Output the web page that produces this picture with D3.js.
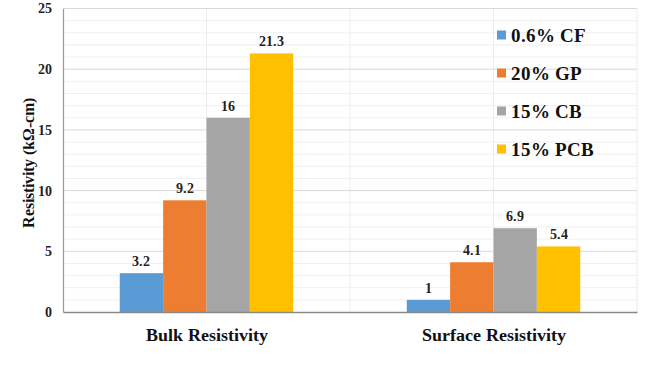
<!DOCTYPE html>
<html><head><meta charset="utf-8">
<script src="https://cdn.jsdelivr.net/npm/d3@7"></script>
<style>
@font-face{font-family:"ChartSerif";src:local("Liberation Serif Bold"),local("LiberationSerif-Bold"),local("Liberation Serif");font-weight:bold;font-display:block}
body{margin:0;background:#fff}svg{display:block}
</style>
</head><body><svg id="c" width="650" height="383"></svg>
<script>
const categories = ["Bulk Resistivity", "Surface Resistivity"];
const seriesNames = ["0.6% CF", "20% GP", "15% CB", "15% PCB"];
const cf = [3.2, 1];
const gp = [9.2, 4.1];
const cb = [16, 6.9];
const pcb = [21.3, 5.4];
const seriesValues = [cf, gp, cb, pcb];
const yTicks = [0, 5, 10, 15, 20, 25];
const colors = ["#5B9BD5", "#ED7D31", "#A5A5A5", "#FFC000"];

const svg = d3.select("#c");
const L = 63, R = 637, T = 8.5, B = 312;
const FF = '"ChartSerif", "Liberation Serif", "Times New Roman", serif';
function styleText(sel, size) {
  return sel.style("font-family", FF).style("font-weight", "bold").style("font-size", size + "px");
}

const y = d3.scaleLinear().domain([0, 25]).range([B, T]);
const x0 = d3.scaleBand().domain(categories).range([L, R]).paddingInner(0).paddingOuter(0);
const groupW = 173.5;
const x1 = d3.scaleBand().domain(seriesNames).range([0, groupW]);

// minor gridlines
svg.append("g").selectAll("line").data(d3.range(0, 26).filter(v => v % 5 !== 0)).join("line")
  .attr("x1", L).attr("x2", R).attr("y1", d => y(d)).attr("y2", d => y(d))
  .attr("stroke", "#f0f0f0").attr("stroke-width", 1);
// vertical gridlines
const vg = [];
categories.forEach(c => { vg.push(x0(c) + x0.bandwidth() / 2); vg.push(x0(c) + x0.bandwidth()); });
svg.append("g").selectAll("line").data(vg).join("line")
  .attr("x1", d => d).attr("x2", d => d).attr("y1", T).attr("y2", B)
  .attr("stroke", "#ececec").attr("stroke-width", 1);
// major gridlines
svg.append("g").selectAll("line").data(yTicks.filter(v => v > 0)).join("line")
  .attr("x1", L).attr("x2", R).attr("y1", d => y(d)).attr("y2", d => y(d))
  .attr("stroke", "#d9d9d9").attr("stroke-width", 1);

// y axis
const yAxis = d3.axisLeft(y).tickValues(yTicks).tickSize(0).tickPadding(11);
const ya = svg.append("g").attr("transform", `translate(${L},0)`).call(yAxis).attr("font-family", null);
ya.select(".domain").attr("stroke", "#9a9a9a").attr("stroke-width", 1.2);
styleText(ya.selectAll("text"), 14).attr("fill", "#222");

// bars and value labels
categories.forEach((c, ci) => {
  const gx = x0(c) + x0.bandwidth() / 2 - groupW / 2;
  seriesNames.forEach((s, si) => {
    const v = seriesValues[si][ci];
    svg.append("rect").attr("x", gx + x1(s)).attr("y", y(v))
      .attr("width", x1.bandwidth()).attr("height", B - y(v)).attr("fill", colors[si]);
    styleText(svg.append("text"), 14).attr("x", gx + x1(s) + x1.bandwidth() / 2).attr("y", y(v) - 7)
      .attr("text-anchor", "middle").attr("fill", "#222").text(v);
  });
});

// x axis
const xAxis = d3.axisBottom(x0).tickSize(0).tickPadding(16);
const xa = svg.append("g").attr("transform", `translate(0,${B})`).call(xAxis).attr("font-family", null);
xa.select(".domain").attr("stroke", "#8a8a8a").attr("stroke-width", 1.5);
styleText(xa.selectAll("text"), 18).attr("fill", "#111");

// y title
styleText(svg.append("text"), 16).attr("transform", "translate(34,163) rotate(-90)")
  .attr("text-anchor", "middle").attr("fill", "#111").text("Resistivity (kΩ-cm)");

// legend
const lg = svg.append("g");
seriesNames.forEach((s, i) => {
  const cy = 35 + i * 38;
  lg.append("rect").attr("x", 497).attr("y", cy - 4.5).attr("width", 9).attr("height", 9).attr("fill", colors[i]);
  styleText(lg.append("text"), 19).attr("x", 511).attr("y", cy).attr("dy", "0.35em")
    .attr("fill", "#111").text(s);
});
if (document.fonts && document.fonts.load) { document.fonts.load('bold 16px "ChartSerif"'); }
</script></body></html>
